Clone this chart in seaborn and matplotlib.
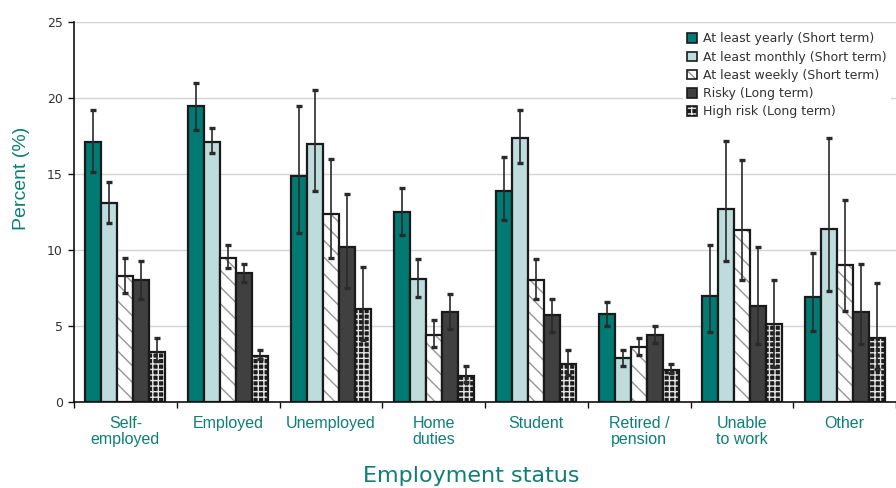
import numpy as np
import pandas as pd
import matplotlib
matplotlib.use("Agg")
import matplotlib.pyplot as plt
import seaborn as sns
from matplotlib.patches import Patch
from matplotlib.colors import to_rgba
from matplotlib.ticker import FixedLocator

# ---- data -------------------------------------------------------------
categories = ["Self-\nemployed", "Employed", "Unemployed", "Home\nduties",
              "Student", "Retired /\npension", "Unable\nto work", "Other"]
series = ["At least yearly (Short term)", "At least monthly (Short term)",
          "At least weekly (Short term)", "Risky (Long term)",
          "High risk (Long term)"]

yearly = [17.1, 19.5, 14.9, 12.5, 13.9, 5.8, 7.0, 6.9]
yearly_lo = [15.1, 17.9, 11.1, 11.0, 12.0, 5.0, 4.6, 4.7]
yearly_hi = [19.2, 21.0, 19.5, 14.1, 16.1, 6.6, 10.3, 9.8]

monthly = [13.1, 17.1, 17.0, 8.1, 17.4, 2.9, 12.7, 11.4]
monthly_lo = [11.8, 16.4, 13.9, 6.9, 15.7, 2.4, 9.3, 7.3]
monthly_hi = [14.5, 18.0, 20.5, 9.4, 19.2, 3.4, 17.2, 17.4]

weekly = [8.3, 9.5, 12.4, 4.4, 8.0, 3.6, 11.3, 9.0]
weekly_lo = [7.2, 8.8, 9.5, 3.6, 6.8, 3.1, 8.0, 6.0]
weekly_hi = [9.5, 10.3, 16.0, 5.4, 9.4, 4.2, 15.9, 13.3]

risky = [8.0, 8.5, 10.2, 5.9, 5.7, 4.4, 6.3, 5.9]
risky_lo = [6.8, 7.9, 7.5, 4.8, 4.6, 3.9, 3.8, 3.8]
risky_hi = [9.3, 9.1, 13.7, 7.1, 6.8, 5.0, 10.2, 9.1]

high_risk = [3.3, 3.0, 6.1, 1.7, 2.5, 2.1, 5.1, 4.2]
high_risk_lo = [2.7, 2.8, 4.1, 1.3, 1.8, 1.9, 2.3, 2.2]
high_risk_hi = [4.2, 3.4, 8.9, 2.4, 3.4, 2.5, 8.0, 7.8]

y_ticks = [0, 5, 10, 15, 20, 25]

# ---- styling ----------------------------------------------------------
values = [yearly, monthly, weekly, risky, high_risk]
lows = [yearly_lo, monthly_lo, weekly_lo, risky_lo, high_risk_lo]
highs = [yearly_hi, monthly_hi, weekly_hi, risky_hi, high_risk_hi]

face_colors = ["#007a72", "#bddcdb", "#ffffff", "#404040", "#1c1c1c"]
hatches = [None, None, "\\\\", None, "+++"]
hatch_colors = [None, None, "#959595", None, "#e4e4e4"]
teal_text = "#0e7f77"
edge = "#1a1a1a"

sns.set_theme(style="white")
narrow = ["Liberation Sans Narrow", "Liberation Sans", "DejaVu Sans"]
plt.rcParams["font.family"] = ["DejaVu Sans"]
plt.rcParams["hatch.linewidth"] = 1.0


def apply_hatch(patch, hatch, color):
    if hatch is None:
        return
    patch.set_hatch(hatch)
    if hasattr(patch, "set_hatchcolor"):
        patch.set_hatchcolor(color)
    else:
        patch._hatch_color = to_rgba(color)


df = pd.DataFrame({
    "status": [c for _ in series for c in categories],
    "series": [s for s in series for _ in categories],
    "percent": [v for vals in values for v in vals],
})

fig = plt.figure(figsize=(8.96, 4.88), dpi=100)
ax = fig.add_axes([74 / 896, 1 - 402 / 488, 822 / 896, 380 / 488])

sns.barplot(data=df, x="status", y="percent", hue="series",
            order=categories, hue_order=series, palette=face_colors,
            saturation=1, errorbar=None, width=0.78, linewidth=1.6,
            edgecolor=edge, legend=False, ax=ax)

bar_containers = list(ax.containers)
for i, cont in enumerate(bar_containers):
    for bar in cont:
        apply_hatch(bar, hatches[i], hatch_colors[i])
    xs = [b.get_x() + b.get_width() / 2 for b in cont]
    v = np.array(values[i])
    yerr = [v - np.array(lows[i]), np.array(highs[i]) - v]
    ax.errorbar(xs, v, yerr=yerr, fmt="none", ecolor="#2a2a2a",
                elinewidth=1.2, capsize=2.5, capthick=2.4, zorder=5)

# axes
ax.set_xlim(-0.5, len(categories) - 0.5)
ax.set_ylim(0, 25)
ax.set_yticks(y_ticks)
ax.set_yticklabels([str(t) for t in y_ticks])
ax.yaxis.grid(True, color="#d4d4d4", linewidth=1.0)
ax.set_axisbelow(True)
for side in ["top", "right"]:
    ax.spines[side].set_visible(False)
for side in ["left", "bottom"]:
    ax.spines[side].set_color("#111111")
    ax.spines[side].set_linewidth(1.2)

ax.tick_params(axis="y", left=True, length=4, width=1, color="#111111",
               labelsize=9, labelcolor="#333333", pad=4)
ax.xaxis.set_minor_locator(FixedLocator(np.arange(-0.5, len(categories), 1)))
ax.tick_params(axis="x", which="minor", bottom=True, length=4, width=1,
               color="#111111")
ax.tick_params(axis="x", which="major", bottom=False, length=0, pad=10)
ax.set_xticks(range(len(categories)))
ax.set_xticklabels(categories, fontfamily=narrow, fontsize=11.5,
                   color=teal_text, linespacing=1.1)
ax.set_xlabel("")
ax.set_ylabel("")

fig.text(22 / 896, 1 - 178 / 488, "Percent (%)", rotation=90, ha="center",
         va="center", fontsize=14, color=teal_text, family=narrow)
fig.text(471 / 896, 1 - 476 / 488, "Employment status", ha="center",
         va="center", fontsize=16, color=teal_text)

# legend
handles = []
for i, s in enumerate(series):
    p = Patch(facecolor=face_colors[i], edgecolor=edge, linewidth=1.2)
    apply_hatch(p, hatches[i], hatch_colors[i])
    handles.append(p)
leg = ax.legend(handles, series, loc="upper left",
                bbox_to_anchor=(683 / 896, 1 - 28 / 488),
                bbox_transform=fig.transFigure, frameon=True,
                facecolor="white", edgecolor="none", framealpha=1,
                fancybox=False, fontsize=9, handlelength=0.8,
                handleheight=0.8, handletextpad=0.45, labelspacing=0.42,
                borderpad=0.35, borderaxespad=0)
for t in leg.get_texts():
    t.set_color("#333333")

fig.savefig("out.png", dpi=100)
